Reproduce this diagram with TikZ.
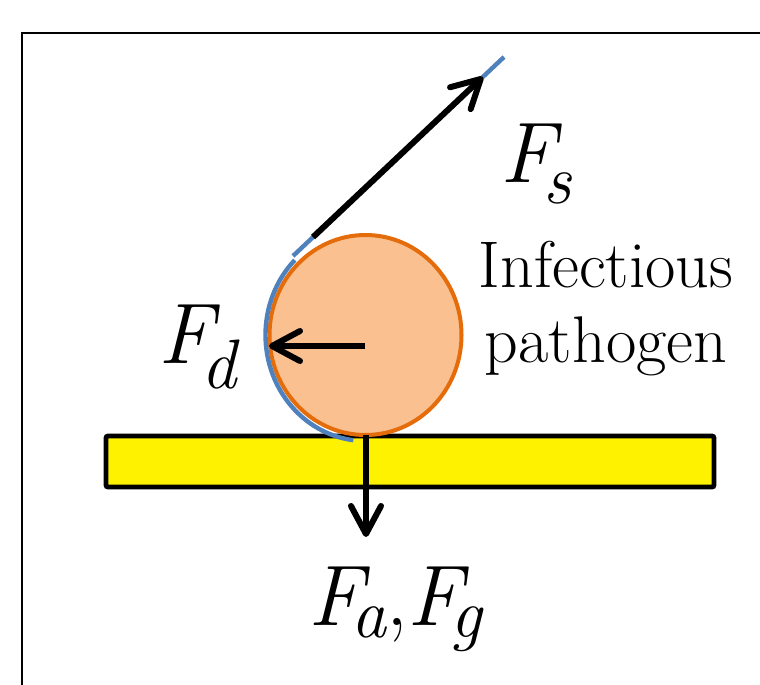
\documentclass[tikz,border=0pt]{standalone}
\usepackage{tikz}
\usetikzlibrary{arrows.meta,calc}
\definecolor{cellfill}{HTML}{FAC090}
\definecolor{celledge}{HTML}{E46C0A}
\definecolor{filmblue}{HTML}{4F81BD}
% Kraft mit tiefgestelltem Index
\newcommand{\kraft}[2][0.25em]{{\itshape F}\kern-6pt\raisebox{-#1}{\fontsize{35}{35}\selectfont\itshape #2}}

\begin{document}
\begin{tikzpicture}[x=0.5pt, y=-0.5pt,
    force/.style={black, line width=3pt, -{Straight Barb[length=14pt, width=15pt, round]}},
    film/.style={filmblue, line width=2.2pt},
    cell/.style={fill=cellfill, draw=celledge, line width=2pt},
    surface/.style={fill=yellow, draw=black, line width=2.4pt, rounded corners=1pt},
    flabel/.style={inner sep=0pt, anchor=base west, font=\fontsize{43}{50}\selectfont}
  ]
  \useasboundingbox (0,0) rectangle (760,685);

  % Rahmen
  \draw[black, line width=0.75pt] (22,700) -- (22,33) -- (770,33);

  % Oberflaeche
  \draw[surface] (106,436) rectangle (714,487);

  % Erreger
  \coordinate (c) at (365.5,335);
  \draw[cell] (c) ellipse [x radius=96, y radius=100];

  % Film
  \draw[film] (c) ++(225:100 and 106) arc [start angle=225, end angle=97, x radius=100, y radius=106];
  \coordinate (t1) at (293,256);
  \coordinate (t2) at (504,57);
  \draw[film] (t1) -- (t2);

  % Kraefte
  \coordinate (fs0) at ($(t1)!0.095!(t2)$);
  \coordinate (fs1) at ($(t1)!0.9!(t2)$);
  \draw[force] (fs0) -- (fs1);
  \coordinate (fd0) at (365,346);
  \coordinate (fd1) at (269,346);
  \draw[force] (fd0) -- (fd1);
  \coordinate (fa0) at (366,435);
  \coordinate (fa1) at (366,537);
  \draw[force] (fa0) -- (fa1);

  % Beschriftung
  \node[flabel] (ls) at (500,182) {\kraft{s}};
  \node[flabel] (ld) at (158,363) {\kraft[0.3em]{d}};
  \node[flabel] (lag) at (308,625) {\kraft[0.15em]{a},\kraft[0.15em]{g}};
  \node[anchor=north, align=center, inner sep=0pt, font=\fontsize{33}{37.5}\selectfont] (lp) at (606,241) {Infectious\\pathogen};
\end{tikzpicture}
\end{document}
